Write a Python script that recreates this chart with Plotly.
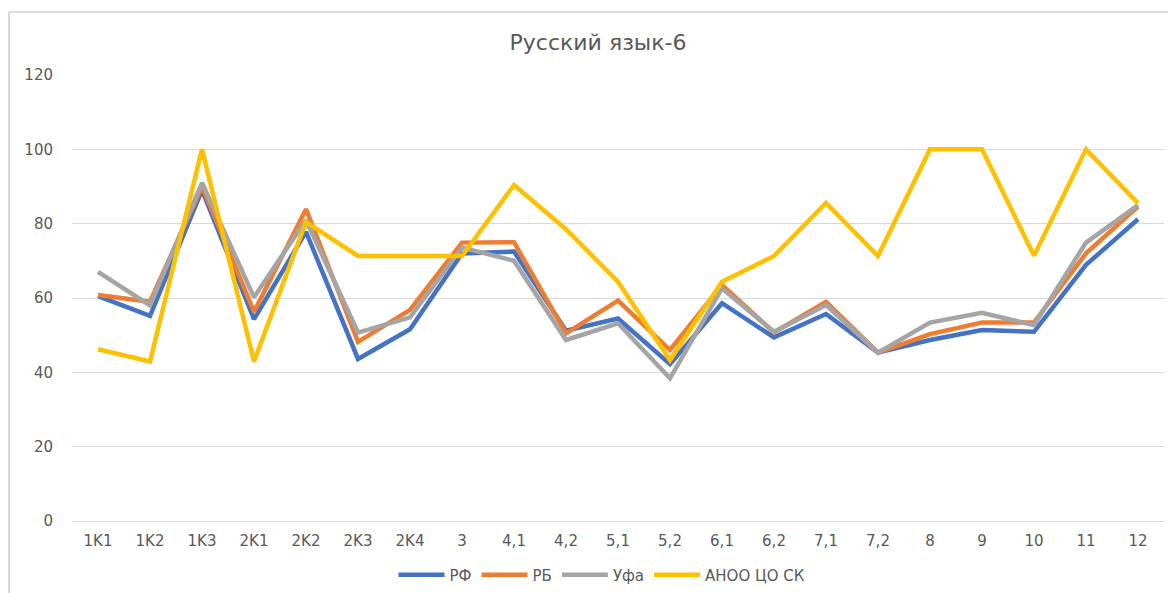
import plotly.graph_objects as go

categories = ["1K1", "1K2", "1K3", "2K1", "2K2", "2K3", "2K4", "3", "4,1", "4,2", "5,1",
              "5,2", "6,1", "6,2", "7,1", "7,2", "8", "9", "10", "11", "12"]
rf = [60.5, 55.2, 89, 54.3, 77.8, 43.6, 51.6, 72, 72.5, 51.2, 54.5,
      42.2, 58.6, 49.4, 55.7, 45.3, 48.7, 51.4, 50.9, 68.9, 81.2]
rb = [60.8, 59.0, 90, 56.3, 83.9, 48.2, 56.8, 74.9, 75.0, 50.5, 59.3,
      46.0, 63.5, 50.7, 59.0, 45.3, 50.3, 53.4, 53.4, 72.0, 84.6]
ufa = [67.0, 58.0, 91, 60.2, 81.0, 50.7, 54.8, 73.6, 70.0, 48.7, 53.2,
       38.4, 62.6, 50.9, 58.1, 45.3, 53.4, 56.0, 52.7, 74.9, 85.0]
anoo = [46.2, 42.9, 100, 42.9, 80.5, 71.3, 71.3, 71.3, 90.4, 78.5, 64.4,
        43.3, 64.4, 71.3, 85.6, 71.3, 100, 100, 71.4, 100, 85.5]
series_names = ["РФ", "РБ", "Уфа", "АНОО ЦО СК"]
colors = ["#4472C4", "#ED7D31", "#A5A5A5", "#FFC000"]
y_ticks = [0, 20, 40, 60, 80, 100, 120]

fig = go.Figure()
for name, vals, col in zip(series_names, [rf, rb, ufa, anoo], colors):
    fig.add_trace(go.Scatter(x=categories, y=vals, mode="lines", name=name,
                             line=dict(color=col, width=4.5)))

font_family = "DejaVu Sans, Verdana, sans-serif"
W, H = 1168, 585
L, R, T, B = 64, 12, 67, 72
pw, ph = W - L - R, H - T - B

fig.update_layout(
    width=W, height=H,
    paper_bgcolor="white", plot_bgcolor="white",
    margin=dict(l=L, r=R, t=T, b=B),
    title=dict(text="Русский язык-6", x=590 / W, xanchor="center",
               y=1 - 34 / H, yanchor="middle",
               font=dict(family=font_family, size=22, color="#595959")),
    font=dict(family=font_family, size=15, color="#595959"),
    showlegend=True,
    legend=dict(orientation="h", xref="container", x=594 / W, xanchor="center",
                yref="container", y=1 - 567 / H, yanchor="middle",
                itemwidth=46,
                font=dict(size=15, color="#595959")),
    xaxis=dict(type="category", range=[-0.5, len(categories) - 0.5],
               showgrid=False, showline=True, linecolor="#D9D9D9",
               linewidth=1, ticks="outside", ticklen=6, tickcolor="rgba(0,0,0,0)",
               tickfont=dict(size=15, color="#595959"), fixedrange=True,
               automargin=False),
    yaxis=dict(range=[0, 120], tickvals=y_ticks, showgrid=True, gridcolor="#D9D9D9",
               gridwidth=1, zeroline=False, showline=False, ticks="",
               ticklabelstandoff=18, tickfont=dict(size=15, color="#595959"),
               automargin=False),
)
# chart frame border
bx = (1 - L) / pw
by = (T + ph - 4) / ph
fig.add_shape(type="line", xref="paper", yref="paper",
              x0=bx, x1=1.2, y0=by, y1=by,
              line=dict(color="#D9D9D9", width=2))
fig.add_shape(type="line", xref="paper", yref="paper",
              x0=bx, x1=bx, y0=by, y1=-0.3,
              line=dict(color="#D9D9D9", width=2))

fig.write_html("out.html")
